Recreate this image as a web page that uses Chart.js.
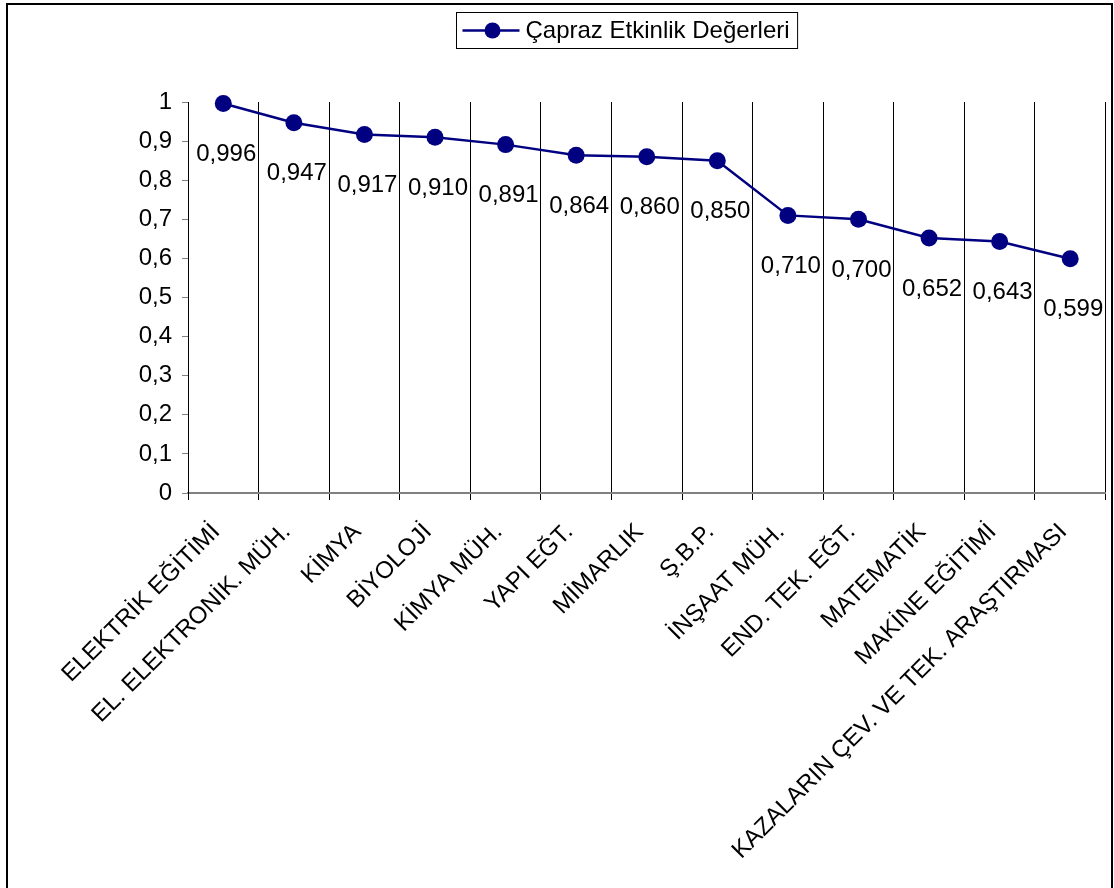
<!DOCTYPE html>
<html>
<head>
<meta charset="utf-8">
<script src="https://cdn.jsdelivr.net/npm/chart.js@4.4.1/dist/chart.umd.min.js"></script>
<style>
  html, body { margin: 0; padding: 0; background: #fff; }
  canvas { display: block; }
</style>
</head>
<body>
<canvas id="chart" width="1114" height="888"></canvas>
<script>
// --- DONNÉES ---
const categories = [
  "ELEKTRİK EĞİTİMİ",
  "EL. ELEKTRONİK. MÜH.",
  "KİMYA",
  "BİYOLOJİ",
  "KİMYA MÜH.",
  "YAPI EĞT.",
  "MİMARLIK",
  "Ş.B.P.",
  "İNŞAAT MÜH.",
  "END. TEK. EĞT.",
  "MATEMATİK",
  "MAKİNE EĞİTİMİ",
  "KAZALARIN ÇEV. VE TEK. ARAŞTIRMASI",
];
const values = [0.996, 0.947, 0.917, 0.91, 0.891, 0.864, 0.86, 0.85, 0.71, 0.7, 0.652, 0.643, 0.599];
const seriesName = "Çapraz Etkinlik Değerleri";

const FONT = "Arial, 'Liberation Sans', sans-serif";
const NAVY = "#000080";

// virgule décimale
const fmt3 = (v) => v.toFixed(3).replace(".", ",");
const fmtTick = (v) => (v === 0 || v === 1 ? String(v) : v.toFixed(1).replace(".", ","));

// --- CADRE + LÉGENDE ---
const framePlugin = {
  id: "frame",
  afterDraw(chart) {
    const ctx = chart.ctx;
    ctx.save();
    // cadre extérieur
    ctx.strokeStyle = "#000";
    ctx.lineWidth = 2;
    ctx.strokeRect(7, 4, 1105, 900);

    // légende encadrée
    ctx.font = "24px " + FONT;
    const tw = ctx.measureText(seriesName).width;
    const bx = 456.5, by = 12.5, bh = 36;
    const bw = 69 + tw + 8;
    ctx.lineWidth = 1;
    ctx.strokeRect(bx, by, bw, bh);
    const cy = by + bh / 2;
    ctx.strokeStyle = NAVY;
    ctx.lineWidth = 2.5;
    ctx.beginPath();
    ctx.moveTo(bx + 6, cy);
    ctx.lineTo(bx + 63, cy);
    ctx.stroke();
    ctx.fillStyle = NAVY;
    ctx.beginPath();
    ctx.arc(bx + 36, cy, 8, 0, Math.PI * 2);
    ctx.fill();
    ctx.fillStyle = "#000";
    ctx.textAlign = "left";
    ctx.textBaseline = "middle";
    ctx.fillText(seriesName, bx + 69, cy + 1);
    ctx.restore();
  },
};

// --- ÉTIQUETTES DE DONNÉES ---
const labelPlugin = {
  id: "pointLabels",
  afterDatasetsDraw(chart) {
    const ctx = chart.ctx;
    const meta = chart.getDatasetMeta(0);
    ctx.save();
    ctx.font = "24px " + FONT;
    ctx.fillStyle = "#000";
    ctx.textAlign = "center";
    ctx.textBaseline = "middle";
    meta.data.forEach((pt, i) => {
      ctx.fillText(fmt3(values[i]), pt.x + 3, pt.y + 51);
    });
    ctx.restore();
  },
};

new Chart(document.getElementById("chart"), {
  type: "line",
  data: {
    labels: categories,
    datasets: [
      {
        label: seriesName,
        data: values,
        borderColor: NAVY,
        backgroundColor: NAVY,
        borderWidth: 2.5,
        pointRadius: 8.5,
        pointHoverRadius: 8.5,
        pointBackgroundColor: NAVY,
        pointBorderWidth: 0,
        tension: 0,
        fill: false,
        clip: false,
      },
    ],
  },
  options: {
    responsive: false,
    animation: false,
    devicePixelRatio: 1,
    layout: { padding: { top: 102, left: 0, right: 2, bottom: 0 } },
    plugins: {
      legend: { display: false },
      tooltip: { enabled: false },
    },
    scales: {
      x: {
        offset: true,
        grid: {
          offset: true,
          color: "#000",
          lineWidth: 1,
          drawTicks: true,
          tickLength: 7,
        },
        border: { color: "#808080", width: 2 },
        ticks: {
          autoSkip: false,
          maxRotation: 45,
          minRotation: 45,
          padding: 18,
          labelOffset: -7,
          color: "#000",
          font: { family: FONT, size: 24 },
        },
        afterFit(scale) {
          scale.height = 888 - 493;
        },
      },
      y: {
        min: 0,
        max: 1,
        ticks: {
          stepSize: 0.1,
          padding: 10,
          color: "#000",
          font: { family: FONT, size: 24 },
          callback: (v) => fmtTick(Math.round(v * 10) / 10),
        },
        grid: {
          drawOnChartArea: false,
          drawTicks: true,
          tickLength: 6,
          color: "#808080",
        },
        border: { color: "#000", width: 1 },
        afterFit(scale) {
          scale.width = 188;
        },
      },
    },
  },
  plugins: [labelPlugin, framePlugin],
});
</script>
</body>
</html>
